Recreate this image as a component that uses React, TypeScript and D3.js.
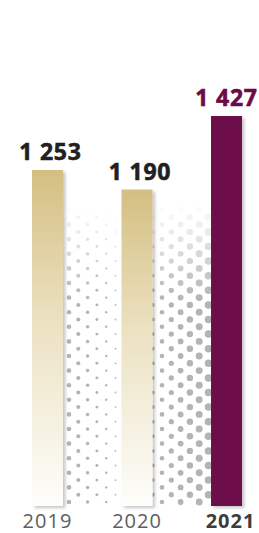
import React from 'react'
import * as d3 from 'd3'

const years = ['2019', '2020', '2021']
const values = [1253, 1190, 1427]
const valueLabels = ['1 253', '1 190', '1 427']

const W = 259
const H = 533
const BASE = 506

const GOLD = '#d4bf82'
const PURPLE = '#6d0a48'

export default function App() {
  const x = d3.scaleBand().domain(years).range([32, 242]).paddingInner(0.654).paddingOuter(0)
  const y = d3.scaleLinear().domain([170, 1427]).range([BASE, 116])

  // halftone texture behind the bars
  const x2 = x('2020') || 0
  const x2r = x2 + x.bandwidth()
  const step = 9.3
  const dots: { cx: number; cy: number; r: number; o: number }[] = []
  d3.range(0, 16).forEach((i) => {
    const cx = 69 + i * step
    let r = 0
    if (cx < x2) r = 2.3 - ((cx - 69) / (116 - 69)) * 1.4
    else if (cx > x2r - 4) r = 2.3 + ((cx - 162) / (200 - 162)) * 1.2
    else return
    d3.range(0, 42).forEach((j) => {
      if ((i + j) % 2 !== 0) return
      const cy = 502 - j * 7.3
      if (cy < 205) return
      const o = Math.max(0, Math.min(1, (cy - 205) / 95))
      dots.push({ cx, cy, r: Math.max(0.7, r), o })
    })
  })

  return (
    <svg
      width={W}
      height={H}
      style={{ position: 'absolute', left: 0, top: 0, background: '#fff' }}
    >
      <defs>
        <linearGradient id="gold" x1="0" y1="0" x2="0" y2="1">
          <stop offset="0" stopColor={GOLD} />
          <stop offset="0.45" stopColor="#ece2c2" />
          <stop offset="1" stopColor="#fdfdfb" />
        </linearGradient>
        <filter id="shadow" x="-30%" y="-10%" width="160%" height="120%">
          <feDropShadow dx="2.5" dy="2" stdDeviation="1.5" floodColor="#000" floodOpacity="0.22" />
        </filter>
      </defs>

      <g>
        {dots.map((d, k) => (
          <circle key={k} cx={d.cx} cy={d.cy} r={d.r} fill="#b3b3b8" opacity={d.o} />
        ))}
      </g>

      {years.map((yr, i) => (
        <rect
          key={yr}
          x={x(yr)}
          y={y(values[i])}
          width={x.bandwidth()}
          height={BASE - y(values[i])}
          fill={i === 2 ? PURPLE : 'url(#gold)'}
          filter="url(#shadow)"
        />
      ))}

      {years.map((yr, i) => (
        <text
          key={'v' + yr}
          x={(x(yr) || 0) + x.bandwidth() / 2 + (i === 2 ? 0 : 3)}
          y={y(values[i]) - 10}
          textAnchor="middle"
          fontFamily="'Open Sans', sans-serif"
          fontWeight={700}
          fontSize={23}
          letterSpacing={0.8}
          stroke={i === 2 ? PURPLE : '#231f20'}
          strokeWidth={0.6}
          fill={i === 2 ? PURPLE : '#231f20'}
        >
          {valueLabels[i]}
        </text>
      ))}

      {years.map((yr, i) => (
        <text
          key={'y' + yr}
          x={(x(yr) || 0) + x.bandwidth() / 2 + (i === 2 ? 4 : 0)}
          y={528}
          textAnchor="middle"
          fontFamily="'Open Sans', sans-serif"
          fontWeight={i === 2 ? 700 : 400}
          fontSize={20}
          letterSpacing={1}
          fill={i === 2 ? '#3d3d3f' : '#5d5e60'}
        >
          {yr}
        </text>
      ))}
    </svg>
  )
}
